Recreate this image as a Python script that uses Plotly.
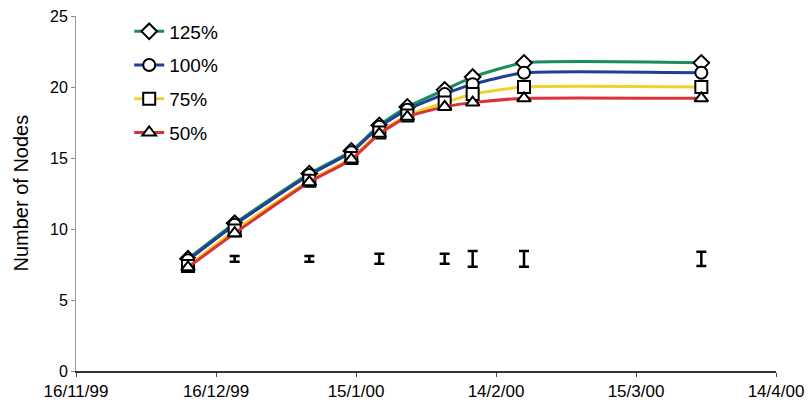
import plotly.graph_objects as go

# Sampling dates and node counts per load level
dates = ["1999-12-10", "1999-12-20", "2000-01-05", "2000-01-14", "2000-01-20",
         "2000-01-26", "2000-02-03", "2000-02-09", "2000-02-20", "2000-03-29"]
nodes_125 = [7.9, 10.4, 13.9, 15.5, 17.3, 18.6, 19.8, 20.7, 21.7, 21.7]
nodes_100 = [7.8, 10.3, 13.8, 15.4, 17.2, 18.4, 19.5, 20.2, 21.0, 21.0]
nodes_75 = [7.4, 9.9, 13.4, 15.0, 16.8, 18.0, 18.9, 19.5, 20.0, 20.0]
nodes_50 = [7.3, 9.7, 13.3, 14.9, 16.7, 17.9, 18.6, 18.9, 19.2, 19.2]

# Spread markers shown along the lower band
spread_dates = ["1999-12-20", "2000-01-05", "2000-01-20", "2000-02-03",
                "2000-02-09", "2000-02-20", "2000-03-29"]
spread_mid = [7.9, 7.9, 7.9, 7.9, 7.9, 7.9, 7.9]
spread_err = [0.2, 0.2, 0.35, 0.35, 0.55, 0.55, 0.5]

tick_dates = ["1999-11-16", "1999-12-16", "2000-01-15", "2000-02-14",
              "2000-03-15", "2000-04-14"]
tick_text = ["16/11/99", "16/12/99", "15/1/00", "14/2/00", "15/3/00", "14/4/00"]

series = [
    ("125%", nodes_125, "#1b8c5c", "diamond"),
    ("100%", nodes_100, "#1f3f98", "circle"),
    ("75%", nodes_75, "#f0d22c", "square"),
    ("50%", nodes_50, "#d83338", "triangle-up"),
]

FONT = "Liberation Sans, Arial, sans-serif"

fig = go.Figure()

for name, vals, color, sym in series:
    fig.add_trace(go.Scatter(
        x=dates, y=vals, name=name, mode="lines+markers",
        line=dict(color=color, width=3, shape="spline", smoothing=0.5),
        marker=dict(symbol=sym, size=12, color="white",
                    line=dict(color="black", width=2)),
        legendgroup=name,
    ))

fig.add_trace(go.Scatter(
    x=spread_dates, y=spread_mid, mode="markers", showlegend=False,
    marker=dict(size=1, color="rgba(0,0,0,0)"),
    error_y=dict(type="data", array=spread_err, visible=True,
                 color="black", thickness=2.5, width=5),
))

fig.add_annotation(
    text="Number of Nodes", textangle=-90, showarrow=False,
    xref="paper", yref="paper", x=-0.08, y=0.5,
    xanchor="center", yanchor="middle", font=dict(size=20),
)

fig.update_layout(
    width=809, height=408,
    margin=dict(l=76, r=33, t=16, b=37, autoexpand=False),
    paper_bgcolor="white", plot_bgcolor="white",
    font=dict(family=FONT, color="black", size=16),
    showlegend=True,
    legend=dict(x=0.076, y=1.01, xanchor="left", yanchor="top",
                font=dict(size=19), bgcolor="rgba(0,0,0,0)",
                tracegroupgap=6),
    xaxis=dict(
        type="date", range=["1999-11-16", "2000-04-14"],
        tickvals=tick_dates, ticktext=tick_text,
        ticks="outside", ticklen=4, tickcolor="#444",
        showline=True, linecolor="#333", linewidth=2,
        showgrid=False, zeroline=False, automargin=False,
        tickfont=dict(size=17),
    ),
    yaxis=dict(
        range=[0, 25], dtick=5, ticks="outside", ticklen=4, tickcolor="#888",
        showline=True, linecolor="#999", linewidth=1,
        showgrid=False, zeroline=False, automargin=False,
        tickfont=dict(size=16),
    ),
)

fig.write_html("out.html")
